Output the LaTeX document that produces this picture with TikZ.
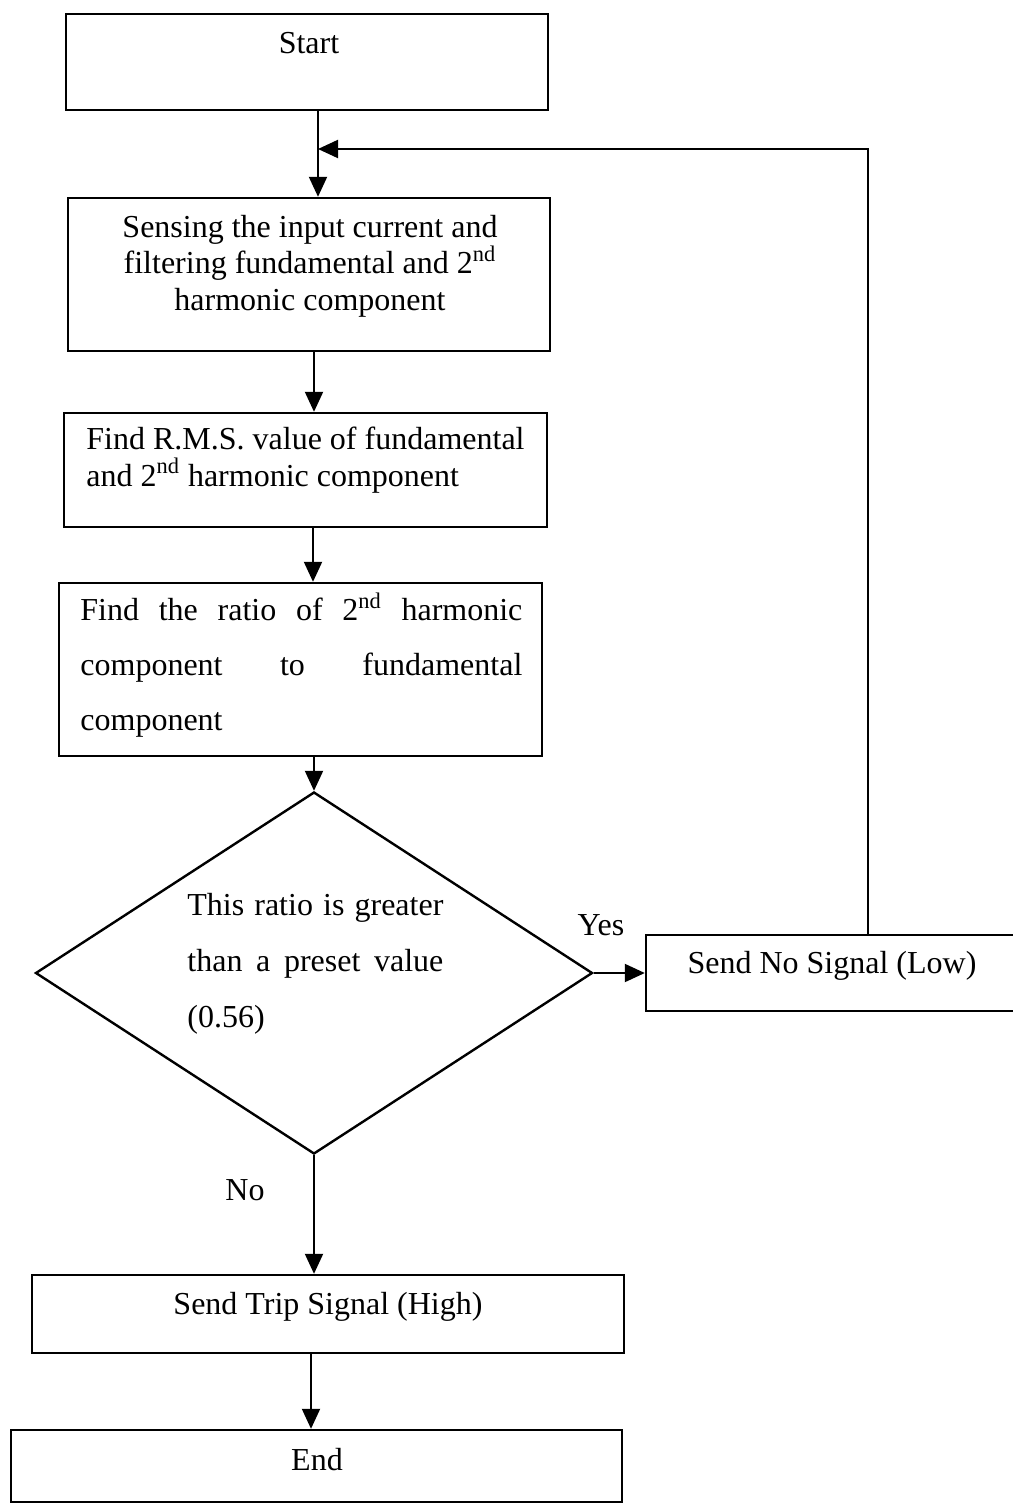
\documentclass[tikz,border=0pt]{standalone}
\usepackage{fontspec}
\setmainfont{Liberation Serif}
\usetikzlibrary{arrows.meta,shapes.geometric}
\begin{document}
\begin{tikzpicture}[x=0.5pt,y=-0.5pt,
  box/.style={draw, line width=1.2pt, inner sep=0pt, rectangle},
  txt/.style={inner sep=0pt, font=\fontsize{16}{18.25}\selectfont},
  arr/.style={line width=1pt, -{Triangle[length=10pt,width=9pt]}},
  line/.style={line width=1pt}]
\useasboundingbox (0,0) rectangle (1012,1503);
% boxes
\node[box, minimum width=241pt, minimum height=48pt] (start) at (307,62) {};
\node[box, minimum width=241pt, minimum height=76.5pt] (sense) at (309,274.5) {};
\node[box, minimum width=241.5pt, minimum height=57pt] (rms) at (305.5,470) {};
\node[box, minimum width=241.5pt, minimum height=86.5pt] (ratio) at (300.5,669.5) {};
\node[draw, line width=1.2pt, shape=diamond, inner sep=0pt, minimum width=278.5pt, minimum height=181pt] (dec) at (314,973) {};
\node[box, minimum width=186pt, minimum height=38pt] (nosig) at (832,973) {};
\node[box, minimum width=296pt, minimum height=39pt] (trip) at (328,1314) {};
\node[box, minimum width=305.5pt, minimum height=36pt] (end) at (316.5,1466) {};
% texts
\node[txt] (tstart) at (309,43) {Start};
\node[txt, align=center] (tsense) at (310,266) {Sensing the input current and\\filtering fundamental and 2\textsuperscript{nd}\\harmonic component};
\node[txt, align=left, anchor=west, font=\fontsize{16}{18.5}\selectfont] (trms) at (86,460) {Find R.M.S. value of fundamental\\and 2\textsuperscript{nd} harmonic component};
\node[txt, align=left, anchor=west, font=\fontsize{16}{27.5}\selectfont] (tratio) at (80,665) {\makebox[221pt][s]{Find the ratio of 2\textsuperscript{nd} harmonic}\\\makebox[221pt][s]{component to fundamental}\\component};
\node[txt, align=left, anchor=west, font=\fontsize{16}{28}\selectfont] (tdec) at (187,964) {\makebox[128pt][s]{This ratio is greater}\\\makebox[128pt][s]{than a preset value}\\(0.56)};
\node[txt] (tyes) at (601,925) {Yes};
\node[txt] (tno) at (245,1190) {No};
\node[txt] (tnosig) at (832,966) {Send No Signal (Low)};
\node[txt] (ttrip) at (328,1307) {Send Trip Signal (High)};
\node[txt] (tend) at (317,1460) {End};
% helper coordinates
\coordinate (join) at (318,149);
\coordinate (x2) at (314,0);
\coordinate (x3) at (313,0);
\coordinate (x6) at (311,0);
\coordinate (fb) at (868,0);
% connectors
\draw[arr] (start.south -| join) -- (sense.north -| join);
\draw[arr] (sense.south -| x2) -- (rms.north -| x2);
\draw[arr] (rms.south -| x3) -- (ratio.north -| x3);
\draw[arr] (ratio.south -| dec.north) -- (dec.north);
\draw[arr] (dec.east) -- (nosig.west);
\draw[arr] (dec.south) -- (trip.north -| dec.south);
\draw[arr] (trip.south -| x6) -- (end.north -| x6);
\draw[arr] (nosig.north -| fb) |- (join);
\end{tikzpicture}
\end{document}
